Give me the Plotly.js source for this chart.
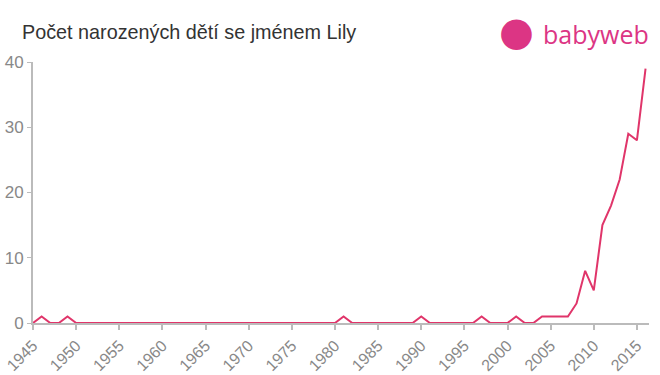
<!DOCTYPE html>
<html><head><meta charset="utf-8">
<script src="https://cdn.plot.ly/plotly-3.0.1.min.js"></script>
<style>body{margin:0;background:#fff}#c{width:660px;height:375px}</style>
</head><body><div id="c"></div>
<script>
const years = [];
for (let y = 1945; y <= 2016; y++) years.push(y);
const counts = [
  0,1,0,0,1,0,0,0,0,0, // 1945-1954
  0,0,0,0,0,0,0,0,0,0, // 1955-1964
  0,0,0,0,0,0,0,0,0,0, // 1965-1974
  0,0,0,0,0,0,1,0,0,0, // 1975-1984
  0,0,0,0,0,1,0,0,0,0, // 1985-1994
  0,0,1,0,0,0,1,0,0,1, // 1995-2004
  1,1,1,3,8,5,15,18,22,29, // 2005-2014
  28,39 // 2015-2016
];
const tickVals = [1945,1950,1955,1960,1965,1970,1975,1980,1985,1990,1995,2000,2005,2010,2015];
const yTicks = [0,10,20,30,40];
const titleText = "Počet narozených dětí se jménem Lily";

const trace = {x: years, y: counts, type: 'scatter', mode: 'lines',
  line: {color: '#e0356a', width: 2}, hoverinfo: 'none'};

const layout = {
  width: 660, height: 375,
  margin: {l: 33, r: 11, t: 62, b: 52},
  paper_bgcolor: '#fff', plot_bgcolor: '#fff',
  showlegend: false,
  title: {text: titleText, x: 22/660, xanchor: 'left', y: 1 - 32/375, yanchor: 'middle',
    font: {family: 'Liberation Sans, Arial, sans-serif', size: 19.8, color: '#333'}},
  xaxis: {range: [1945, 2016.4], tickvals: tickVals, ticktext: tickVals.map(String),
    tickangle: -45, showgrid: false, zeroline: false, showline: true, linecolor: '#bbb', linewidth: 2,
    ticks: 'outside', ticklen: 5, tickcolor: '#bbb', tickwidth: 2,
    tickfont: {family: 'Liberation Sans, Arial, sans-serif', size: 16, color: '#888'}},
  yaxis: {range: [0, 40], tickvals: yTicks, showgrid: false, zeroline: false,
    showline: true, linecolor: '#bbb', linewidth: 2, ticks: 'outside', ticklen: 4,
    tickcolor: '#bbb', tickwidth: 1,
    tickfont: {family: 'Liberation Sans, Arial, sans-serif', size: 17, color: '#888'}},
  annotations: [
    {xref: 'paper', yref: 'paper', x: (541 - 33) / 616, y: (375 - 52 - 34) / 261, xanchor: 'left', yanchor: 'middle',
     text: 'babyweb', showarrow: false,
     font: {family: 'Open Sans, sans-serif', size: 25, color: '#dc3584'}},
    {xref: 'paper', yref: 'paper', x: (516 - 33) / 616, y: (375 - 52 - 31) / 261, xanchor: 'center', yanchor: 'middle',
     text: '●', showarrow: false,
     font: {family: 'DejaVu Sans', size: 40, color: '#dc3584'}}
  ]
};
Plotly.newPlot('c', [trace], layout, {displayModeBar: false, staticPlot: true});
</script></body></html>
